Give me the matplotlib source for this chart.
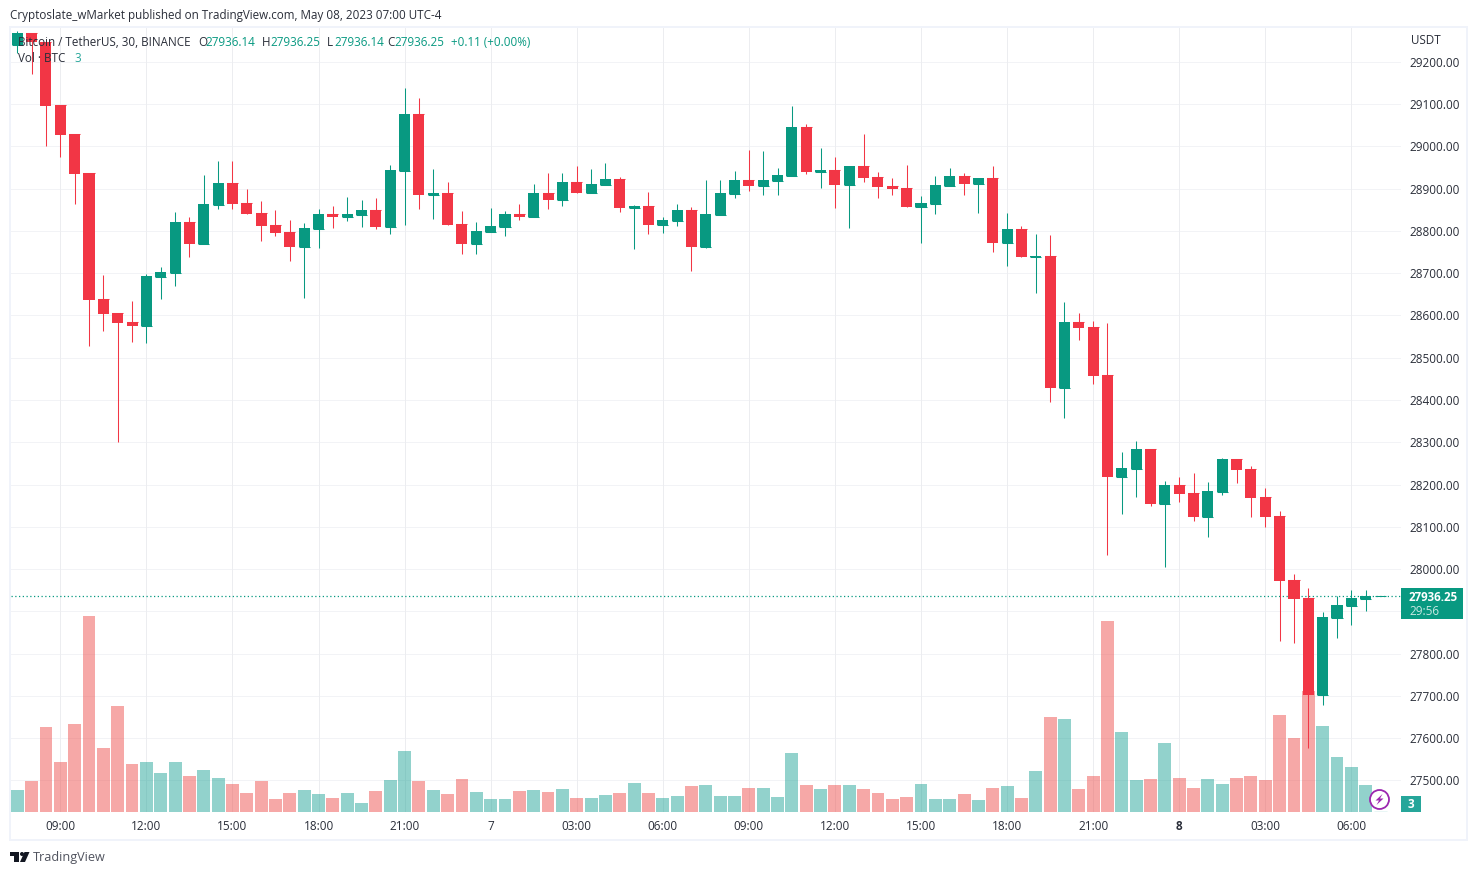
import matplotlib
matplotlib.use("Agg")
import matplotlib.pyplot as plt
from matplotlib.patches import Rectangle, Circle, Polygon
from matplotlib.transforms import blended_transform_factory

plt.rcParams["font.family"] = ["Open Sans", "DejaVu Sans"]

GREEN = "#089981"
RED = "#f23645"
TEXT = "#2a2e39"
GRID_H = "#f2f3f6"
GRID_V = "#ecedf0"
FS = 8.35

# 30 minute candles, 07:30 on May 6 up to 07:00 on May 8
opens = [29239, 29268, 29247, 29098, 29029, 28937, 28639, 28606, 28584, 28575, 28691, 28700,
         28821, 28769, 28861, 28913, 28866, 28842, 28814, 28797, 28762, 28804, 28840, 28833,
         28837, 28849, 28809, 28941, 29076, 28885, 28889, 28816, 28769, 28797, 28809, 28840,
         28833, 28889, 28873, 28916, 28889, 28908, 28923, 28854, 28859, 28814, 28823, 28849,
         28762, 28837, 28887, 28920, 28906, 28918, 28930, 29046, 28939, 28944, 28908, 28953,
         28927, 28906, 28901, 28856, 28863, 28906, 28930, 28911, 28925, 28771, 28804, 28738,
         28740, 28428, 28584, 28573, 28459, 28218, 28237, 28284, 28154, 28199, 28180, 28123,
         28182, 28260, 28237, 28170, 28126, 27974, 27932, 27702, 27884, 27913, 27929, 27936.14]
highs = [29273, 29268, 29247, 29098, 29029, 28937, 28696, 28606, 28634, 28698, 28714, 28845,
         28833, 28932, 28965, 28965, 28899, 28871, 28849, 28826, 28818, 28852, 28859, 28880,
         28873, 28878, 28956, 29138, 29114, 28946, 28916, 28847, 28821, 28854, 28847, 28863,
         28911, 28937, 28937, 28953, 28946, 28960, 28927, 28861, 28892, 28833, 28863, 28856,
         28920, 28920, 28942, 28991, 28989, 28949, 29095, 29053, 28996, 28975, 28953, 29029,
         28939, 28925, 28956, 28882, 28930, 28949, 28937, 28925, 28953, 28842, 28811, 28792,
         28790, 28632, 28606, 28587, 28582, 28277, 28303, 28284, 28208, 28218, 28227, 28206,
         28263, 28260, 28244, 28192, 28137, 27988, 27955, 27899, 27936, 27951, 27951, 27936.25]
lows = [29221, 29172, 29001, 28975, 28864, 28528, 28563, 28301, 28537, 28535, 28639, 28670,
        28738, 28769, 28852, 28852, 28840, 28776, 28788, 28729, 28641, 28759, 28807, 28823,
        28809, 28804, 28793, 28814, 28852, 28828, 28814, 28745, 28745, 28797, 28788, 28826,
        28833, 28852, 28859, 28889, 28889, 28908, 28845, 28757, 28793, 28795, 28811, 28705,
        28759, 28837, 28878, 28894, 28885, 28885, 28930, 28934, 28901, 28854, 28807, 28916,
        28878, 28885, 28856, 28771, 28840, 28906, 28885, 28842, 28750, 28717, 28738, 28653,
        28395, 28357, 28542, 28438, 28033, 28130, 28170, 28149, 28005, 28159, 28114, 28076,
        28175, 28204, 28123, 28100, 27831, 27825, 27577, 27679, 27837, 27868, 27901, 27936.14]
closes = [29268, 29247, 29095, 29027, 28934, 28636, 28603, 28582, 28575, 28693, 28703, 28821,
          28769, 28863, 28913, 28863, 28840, 28811, 28795, 28762, 28807, 28840, 28833, 28840,
          28849, 28809, 28944, 29076, 28885, 28889, 28814, 28769, 28800, 28811, 28840, 28833,
          28889, 28873, 28916, 28889, 28911, 28923, 28854, 28859, 28814, 28826, 28849, 28762,
          28840, 28889, 28920, 28906, 28920, 28932, 29046, 28939, 28944, 28908, 28953, 28925,
          28904, 28899, 28856, 28866, 28908, 28930, 28911, 28925, 28771, 28804, 28738, 28740,
          28428, 28584, 28570, 28457, 28218, 28239, 28284, 28154, 28199, 28178, 28123, 28185,
          28260, 28234, 28168, 28123, 27972, 27929, 27702, 27887, 27915, 27932, 27936, 27936.25]
volumes = [550, 775, 2125, 1250, 2200, 4900, 1600, 2650, 1200, 1250, 975, 1250,
           900, 1050, 850, 700, 475, 775, 325, 475, 550, 450, 350, 475,
           225, 525, 800, 1525, 775, 550, 450, 825, 500, 325, 325, 525,
           550, 500, 575, 350, 350, 425, 475, 725, 475, 350, 400, 650,
           675, 400, 400, 600, 600, 375, 1475, 675, 575, 675, 675, 575,
           475, 325, 375, 700, 325, 325, 450, 300, 600, 650, 350, 1025,
           2375, 2325, 575, 900, 4775, 2000, 800, 825, 1725, 850, 600, 825,
           700, 850, 900, 800, 2425, 1850, 3025, 2150, 1375, 1125, 675, 3]

price_ticks = list(range(27500, 29300, 100))
time_labels = ["09:00", "12:00", "15:00", "18:00", "21:00", "7", "03:00", "06:00",
               "09:00", "12:00", "15:00", "18:00", "21:00", "8", "03:00", "06:00"]
last_price = 27936.25

x = list(range(len(opens)))
up = [c >= o for o, c in zip(opens, closes)]
candle_colors = [GREEN if u else RED for u in up]
volume_colors = ["#26a69a" if u else "#ef5350" for u in up]

fig = plt.figure(figsize=(14.77, 8.75), dpi=100, facecolor="white")
pos = [11 / 1477, 1 - 812 / 875, 1390 / 1477, 784 / 875]

# volume sits underneath, on its own scale
ax_vol = fig.add_axes(pos, zorder=1)
ax = fig.add_axes(pos, zorder=2)
ax.patch.set_visible(False)

ax.set_xlim(-0.437, 96.46)
ax.set_ylim(27425.5, 29279.7)
ax_vol.set_xlim(ax.get_xlim())
ax_vol.set_ylim(0, 19600)

# grid goes on the lower axes so bars stay on top of it
tick_idx = [3 + 6 * k for k in range(len(time_labels))]
row = blended_transform_factory(ax_vol.transAxes, ax.transData)
for p in price_ticks:
    ax_vol.plot([0, 1], [p, p], color=GRID_H, lw=0.72, transform=row, zorder=0)
for t in tick_idx:
    ax_vol.axvline(t, color=GRID_V, lw=0.72, zorder=0)

ax_vol.bar(x, volumes, width=0.9, color=volume_colors, alpha=0.5, zorder=2)
ax_vol.bar(x[-1], volumes[-1], width=0.9, color="#26a69a", edgecolor="#26a69a", lw=1, alpha=0.5, zorder=2)
ax_vol.set_xticks([])
ax_vol.set_yticks([])

# candles
body_low = [min(o, c) for o, c in zip(opens, closes)]
body_size = [abs(o - c) for o, c in zip(opens, closes)]
ax.vlines(x, lows, highs, colors=candle_colors, lw=0.75, zorder=3)
ax.bar(x, body_size, bottom=body_low, width=0.77, color=candle_colors, lw=0, zorder=4)
ax.hlines(opens, [i - 0.385 for i in x], [i + 0.385 for i in x], colors=candle_colors, lw=0.75, zorder=4)
ax.axhline(last_price, color=GREEN, lw=0.9, ls=(0, (1, 2)), zorder=2)

ax.yaxis.tick_right()
ax.set_yticks(price_ticks)
ax.set_yticklabels(["" if p == 27900 else f"{p:.2f}" for p in price_ticks])
ax.set_xticks(tick_idx)
ax.set_xticklabels(time_labels)
for lab, name in zip(ax.get_xticklabels(), time_labels):
    if name == "8":
        lab.set_fontweight("bold")
ax.tick_params(axis="y", length=0, pad=5.8, labelsize=8.45, labelcolor=TEXT)
ax.tick_params(axis="x", length=0, pad=6, labelsize=8.45, labelcolor=TEXT)
for a in (ax, ax_vol):
    for s in a.spines.values():
        s.set_visible(False)

# everything around the plot is placed in pixels on a full figure overlay
ov = fig.add_axes([0, 0, 1, 1], zorder=5)
ov.set_xlim(0, 1477)
ov.set_ylim(875, 0)
ov.axis("off")
ov.patch.set_visible(False)

ov.add_patch(Rectangle((10, 27), 1457, 813, fill=False, ec="#f0f3fa", lw=1.44))
ov.text(10, 15, "Cryptoslate_wMarket published on TradingView.com, May 08, 2023 07:00 UTC-4",
        fontsize=FS, color=TEXT, va="center")
ov.text(18, 42, "Bitcoin / TetherUS, 30, BINANCE", fontsize=FS, color=TEXT, va="center")
for lx, letter, vx, val in [(198, "O", 205, "27936.14"), (262, "H", 270, "27936.25"),
                            (327, "L", 334, "27936.14"), (387, "C", 394, "27936.25")]:
    ov.text(lx, 42, letter, fontsize=FS, color=TEXT, va="center")
    ov.text(vx, 42, val, fontsize=FS, color=GREEN, va="center")
ov.text(451, 42, "+0.11 (+0.00%)", fontsize=FS, color=GREEN, va="center")
ov.text(18, 59, "Vol · BTC", fontsize=FS, color=TEXT, va="center")
ov.text(74, 59, "3", fontsize=FS, color="#26a69a", va="center")
ov.text(1411, 41, "USDT", fontsize=FS, color=TEXT, va="center")

# last price and volume tags
ov.add_patch(Rectangle((1401, 588), 62, 31, fc=GREEN, ec="none"))
ov.text(1409, 597.5, f"{last_price:.2f}", fontsize=8.3, color="white", fontweight="bold", va="center")
ov.text(1409, 611.5, "29:56", fontsize=8.45, color="#c9e8e2", va="center")
ov.add_patch(Rectangle((1401, 796), 20, 16, fc="#26a69a", ec="none"))
ov.text(1411, 804.5, "3", fontsize=8.45, color="white", fontweight="bold", va="center", ha="center")

# lightning badge
ov.add_patch(Circle((1379.5, 799.5), 9.5, fc="white", ec="#9c27b0", lw=1.3))
ov.add_patch(Polygon([(1382.5, 794), (1375.5, 800.5), (1379, 800.5), (1376.5, 805),
                      (1383.5, 798.5), (1380, 798.5)], fc="#9c27b0", ec="none"))

# TradingView logo
ov.add_patch(Polygon([(10, 852), (19, 852), (19, 862), (14, 862), (14, 856), (10, 856)], fc="#131722", ec="none"))
ov.add_patch(Circle((22, 854), 2, fc="#131722", ec="none"))
ov.add_patch(Polygon([(24.5, 852), (29.5, 852), (25, 862), (20, 862)], fc="#131722", ec="none"))
ov.text(33, 857.5, "TradingView", fontsize=9.1, color="#50535e", va="center")

fig.savefig("out.png", dpi=100)
